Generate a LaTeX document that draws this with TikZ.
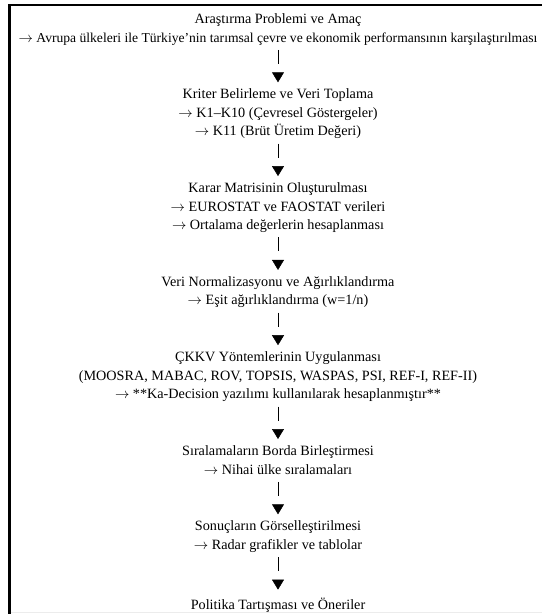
\documentclass[tikz,border=0pt]{standalone}
\usepackage{fontspec}
\setmainfont{Liberation Serif}
\usetikzlibrary{arrows.meta, positioning}

\newcommand{\ra}{$\rightarrow$}

\tikzset{
  stepnode/.style={align=center, inner sep=0pt,
    font=\fontsize{14.2}{18.5}\selectfont,
    execute at begin node=\strut, execute at end node=\strut},
  flowlink/.style={line width=0.5pt, dash pattern=on 14pt off 40pt,
    -{Triangle[width=12pt, length=10pt]}}
}

\begin{document}
\begin{tikzpicture}[x=1pt, y=-1pt, node distance=41pt]
\useasboundingbox (0,0) rectangle (542,614);
% frame of the cropped box
\draw[line width=3pt] (9.5,614) -- (9.5,5);
\draw[line width=2pt] (8,5) -- (542,5);
\draw[gray!15, line width=1.5pt] (11,612.5) -- (542,612.5);

\node[stepnode, anchor=north] (s1) at (278,13.5)
  {Araştırma Problemi ve Amaç\\
   {\fontsize{13.6}{18.5}\selectfont \ra{} Avrupa ülkeleri ile Türkiye’nin tarımsal çevre ve ekonomik performansının karşılaştırılması}};
\node[stepnode, below=of s1] (s2)
  {Kriter Belirleme ve Veri Toplama\\ \ra{} K1–K10 (Çevresel Göstergeler)\\ \ra{} K11 (Brüt Üretim Değeri)};
\node[stepnode, below=of s2] (s3)
  {Karar Matrisinin Oluşturulması\\ \ra{} EUROSTAT ve FAOSTAT verileri\\ \ra{} Ortalama değerlerin hesaplanması};
\node[stepnode, below=of s3] (s4)
  {Veri Normalizasyonu ve Ağırlıklandırma\\ \ra{} Eşit ağırlıklandırma (w=1/n)};
\node[stepnode, below=of s4] (s5)
  {ÇKKV Yöntemlerinin Uygulanması\\
   (MOOSRA, MABAC, ROV, TOPSIS, WASPAS, PSI, REF-I, REF-II)\\
   \ra{} **Ka-Decision yazılımı kullanılarak hesaplanmıştır**};
\node[stepnode, below=of s5] (s6)
  {Sıralamaların Borda Birleştirmesi\\ \ra{} Nihai ülke sıralamaları};
\node[stepnode, below=of s6] (s7)
  {Sonuçların Görselleştirilmesi\\ \ra{} Radar grafikler ve tablolar};
\node[stepnode, below=of s7] (s8)
  {Politika Tartışması ve Öneriler};

% bar + triangle between steps
\foreach \a/\b in {s1/s2, s2/s3, s3/s4, s4/s5, s5/s6, s6/s7, s7/s8}
  \draw[flowlink] ([yshift=-2pt]\a.south) -- ([yshift=6.5pt]\b.north);
\end{tikzpicture}
\end{document}
